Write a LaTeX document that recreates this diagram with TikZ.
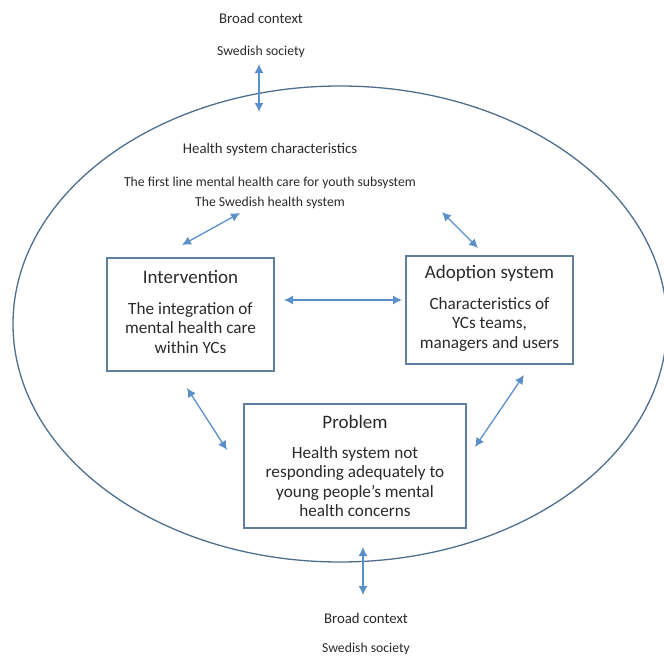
\documentclass[tikz,border=0pt]{standalone}
\usepackage{fontspec}
\setmainfont{Carlito}
\usetikzlibrary{arrows.meta}

\definecolor{arrowblue}{HTML}{5B8FC7}
\definecolor{boxblue}{HTML}{5F7F9C}
\definecolor{ringblue}{HTML}{4E6E8E}
\definecolor{textgray}{HTML}{2A2A2A}

\newcommand{\headfont}{\fontsize{14.8}{17}\selectfont}
\newcommand{\subfont}{\fontsize{13.7}{17}\selectfont}
\newcommand{\boxhead}{\fontsize{19}{21}\selectfont}
\newcommand{\boxbody}{\fontsize{17.2}{19.5}\selectfont}

\tikzset{
    box/.style={draw=boxblue, line width=1.4pt},
    twoway/.style={arrowblue, line width=1.3pt, {Latex[length=9pt,width=9pt]}-{Latex[length=9pt,width=9pt]}},
    txt/.style={text=textgray, inner sep=0pt, align=center}
}

\begin{document}
\begin{tikzpicture}[x=1pt, y=-1pt]
    \useasboundingbox (0,0) rectangle (664,656);

    % outer ring
    \draw[ringblue, line width=1.3pt] (340,324) ellipse [x radius=327, y radius=238];

    % broad context, top and bottom
    \node[txt, font=\headfont] (bctop) at (261,18) {Broad context};
    \node[txt, font=\subfont] (sstop) at (261,52) {Swedish society};
    \node[txt, font=\headfont] (bcbot) at (366,618) {Broad context};
    \node[txt, font=\subfont] (ssbot) at (366,649) {Swedish society};

    % health system
    \node[txt, font=\headfont] (hsc) at (270,150) {Health system characteristics};
    \node[txt, font=\subfont] (firstline) at (270,183) {The first line mental health care for youth subsystem};
    \node[txt, font=\subfont] (swedhs) at (270,203) {The Swedish health system};

    % the three boxes
    \node[box, minimum width=167pt, minimum height=113pt] (interv) at (190.5,314.5) {};
    \node[txt, font=\boxhead] (intervhead) at (190.5,277) {Intervention};
    \node[txt, font=\boxbody, anchor=north] (intervbody) at (190.5,302)
        {The integration of\\mental health care\\within YCs};

    \node[box, minimum width=167pt, minimum height=108pt] (adopt) at (489.5,310) {};
    \node[txt, font=\boxhead] (adopthead) at (489.5,273) {Adoption system};
    \node[txt, font=\boxbody, anchor=north] (adoptbody) at (489.5,297)
        {Characteristics of\\YCs teams,\\managers and users};

    \node[box, minimum width=222pt, minimum height=124pt] (problem) at (355,466) {};
    \node[txt, font=\boxhead] (problemhead) at (355,422) {Problem};
    \node[txt, font=\boxbody, anchor=north] (problembody) at (355,446)
        {Health system not\\responding adequately to\\young people’s mental\\health concerns};

    % arrow ends
    \coordinate (topa) at (259,64);
    \coordinate (topb) at (259,112);
    \coordinate (bota) at (363,547);
    \coordinate (botb) at (363,595);
    \coordinate (tla) at (182,245);
    \coordinate (tlb) at (240,213);
    \coordinate (tra) at (442,212);
    \coordinate (trb) at (478,248);
    \coordinate (mida) at (284,300);
    \coordinate (midb) at (402,300);
    \coordinate (bla) at (187,388);
    \coordinate (blb) at (227,450);
    \coordinate (bra) at (475,447);
    \coordinate (brb) at (524,375);

    \draw[twoway] (topa) -- (topb);
    \draw[twoway] (bota) -- (botb);
    \draw[twoway] (tla) -- (tlb);
    \draw[twoway] (tra) -- (trb);
    \draw[twoway] (mida) -- (midb);
    \draw[twoway] (bla) -- (blb);
    \draw[twoway] (bra) -- (brb);
\end{tikzpicture}
\end{document}
